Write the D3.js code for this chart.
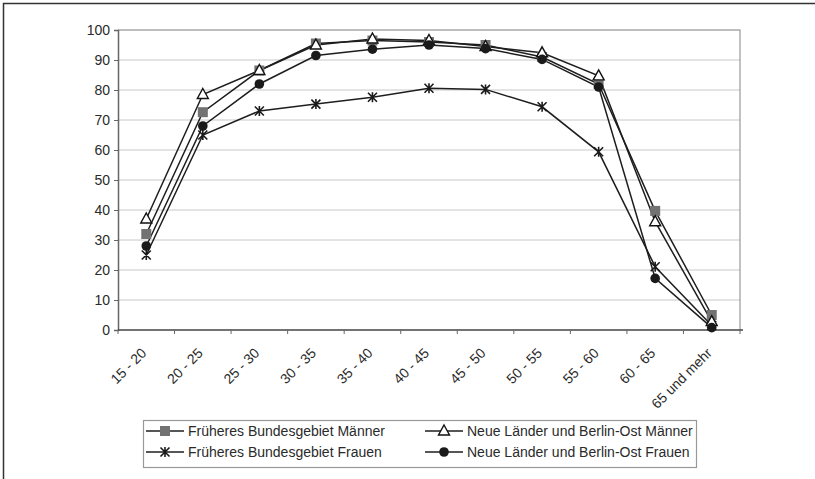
<!DOCTYPE html>
<html><head><meta charset="utf-8">
<script src="https://cdn.jsdelivr.net/npm/d3@7/dist/d3.min.js"></script>
<style>
body{margin:0;background:#fff;}
text{font-family:"Liberation Sans",Arial,sans-serif;}
</style></head>
<body><svg id="c" width="815" height="479"></svg>
<script>
const categories = ["15 - 20","20 - 25","25 - 30","30 - 35","35 - 40","40 - 45","45 - 50","50 - 55","55 - 60","60 - 65","65 und mehr"];
const westMaenner = [32, 72.6, 86.5, 95.5, 96.5, 96, 95, 91, 82, 39.7, 5];
const ostMaenner  = [37, 78.5, 86.5, 95, 97, 96.5, 94.5, 92.4, 84.7, 36.1, 2.8];
const westFrauen  = [25, 65, 73, 75.3, 77.6, 80.6, 80.2, 74.4, 59.4, 21.1, 1.5];
const ostFrauen   = [28, 68, 82, 91.5, 93.6, 95, 93.8, 90.2, 81, 17.2, 0.8];
const yTicks = [0,10,20,30,40,50,60,70,80,90,100];
const seriesNames = ["Früheres Bundesgebiet Männer","Früheres Bundesgebiet Frauen","Neue Länder und Berlin-Ost Männer","Neue Länder und Berlin-Ost Frauen"];

const series = [
  {name: seriesNames[0], values: westMaenner, marker: "square"},
  {name: seriesNames[1], values: westFrauen, marker: "star"},
  {name: seriesNames[2], values: ostMaenner, marker: "triangle"},
  {name: seriesNames[3], values: ostFrauen, marker: "circle"}
];

const svg = d3.select("#c");
svg.append("rect").attr("x",3.5).attr("y",3.5).attr("width",830).attr("height",500)
  .attr("fill","none").attr("stroke","#333").attr("stroke-width",1.5);

const L=118, R=740, T=30, B=330;
const x = d3.scaleBand().domain(categories).range([L,R]);
const y = d3.scaleLinear().domain([0,100]).range([B,T]);
const g = svg.append("g");

g.selectAll("line.grid").data(yTicks.filter(d=>d>0)).join("line")
  .attr("x1",L).attr("x2",R).attr("y1",d=>y(d)).attr("y2",d=>y(d))
  .attr("stroke","#c8c8c8").attr("stroke-width",1);
g.append("path").attr("d",`M${L},${T}H${R}V${B}`).attr("fill","none").attr("stroke","#999").attr("stroke-width",1.2);

const ya = g.append("g").attr("transform",`translate(${L},0)`)
  .call(d3.axisLeft(y).tickValues(yTicks).tickSize(4).tickPadding(4));
ya.select(".domain").attr("stroke","#666").attr("stroke-width",1.5);
ya.selectAll(".tick line").attr("stroke","#666");
ya.selectAll("text").attr("font-size",14).attr("fill","#2a2a2a").style("font-family","Liberation Sans, Arial, sans-serif");

const xa = g.append("g").attr("transform",`translate(0,${B})`)
  .call(d3.axisBottom(x).tickSize(0).tickPadding(0));
xa.select(".domain").remove();
xa.selectAll("text").attr("font-size",14).attr("fill","#2a2a2a")
  .style("font-family","Liberation Sans, Arial, sans-serif")
  .attr("text-anchor","end").attr("dy",null).attr("y",0)
  .attr("transform","translate(1,24) rotate(-45)");
g.append("line").attr("x1",L).attr("x2",R+3).attr("y1",B).attr("y2",B).attr("stroke","#444").attr("stroke-width",1.5);
const bounds = categories.map(c=>x(c)).concat([x(categories[categories.length-1])+x.bandwidth()]);
g.selectAll("line.xt").data(bounds).join("line")
  .attr("x1",d=>d).attr("x2",d=>d).attr("y1",B).attr("y2",B+4).attr("stroke","#666");

function drawMarker(sel, type, cx, cy){
  if(type==="square"){
    sel.append("rect").attr("x",cx-5).attr("y",cy-5).attr("width",10).attr("height",10).attr("fill","#727272");
  } else if(type==="triangle"){
    sel.append("path").attr("d",`M${cx},${cy-6}L${cx+5.5},${cy+4}L${cx-5.5},${cy+4}Z`)
      .attr("fill","#fff").attr("stroke","#111").attr("stroke-width",1.4);
  } else if(type==="circle"){
    sel.append("circle").attr("cx",cx).attr("cy",cy).attr("r",4.8).attr("fill","#1a1a1a");
  } else {
    sel.append("path").attr("d",`M${cx-4.5},${cy-4.5}L${cx+4.5},${cy+4.5}M${cx+4.5},${cy-4.5}L${cx-4.5},${cy+4.5}M${cx},${cy-5}V${cy+5}`)
      .attr("stroke","#1a1a1a").attr("stroke-width",1.6).attr("fill","none");
  }
}

const line = d3.line().x((d,i)=>x(categories[i])+x.bandwidth()/2).y(d=>y(d));
series.forEach(s=>{
  g.append("path").datum(s.values).attr("d",line).attr("fill","none")
    .attr("stroke","#1e1e1e").attr("stroke-width",1.5);
});
series.forEach(s=>{
  const mg = g.append("g");
  s.values.forEach((v,i)=>drawMarker(mg, s.marker, x(categories[i])+x.bandwidth()/2, y(v)));
});

const lg = svg.append("g");
lg.append("rect").attr("x",143.5).attr("y",420.5).attr("width",553).attr("height",47)
  .attr("fill","#fff").attr("stroke","#999").attr("stroke-width",1.2);
const cols = [146, 425];
const rows = [431, 452];
series.forEach((s,i)=>{
  const cx0 = cols[i<2?0:1], cy0 = rows[i%2];
  lg.append("line").attr("x1",cx0).attr("x2",cx0+38).attr("y1",cy0).attr("y2",cy0).attr("stroke","#1e1e1e").attr("stroke-width",1.5);
  drawMarker(lg, s.marker, cx0+19, cy0);
  lg.append("text").attr("x",cx0+42).attr("y",cy0+5).attr("font-size",14).attr("fill","#2a2a2a").text(s.name);
});
</script></body></html>
